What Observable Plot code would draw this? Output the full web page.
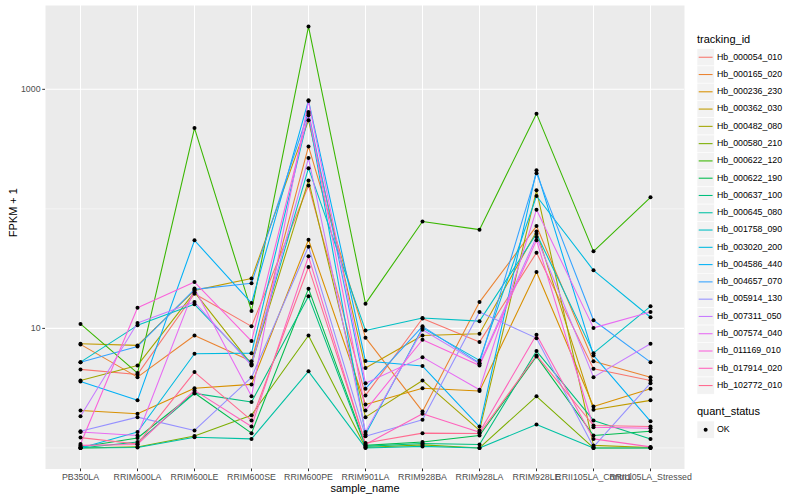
<!DOCTYPE html>
<html>
<head>
<meta charset="utf-8">
<script src="https://cdn.jsdelivr.net/npm/d3@7"></script>
<script src="https://cdn.jsdelivr.net/npm/@observablehq/plot@0.6"></script>
<style>
  html, body { margin: 0; padding: 0; background: white; }
  #wrap { position: relative; width: 800px; height: 500px; font-family: "Liberation Sans", Arial, Helvetica, sans-serif; }
  #chart { position: absolute; left: 0; top: 0; }
  #legend { position: absolute; left: 692px; top: 0; }
</style>
</head>
<body>
<div id="wrap"><div id="chart"></div><div id="legend"></div></div>
<script>
const samples = ["PB350LA","RRIM600LA","RRIM600LE","RRIM600SE","RRIM600PE","RRIM901LA","RRIM928BA","RRIM928LA","RRIM928LE","RRII105LA_Control","RRII105LA_Stressed"];

const ids = ["Hb_000054_010","Hb_000165_020","Hb_000236_230","Hb_000362_030","Hb_000482_080","Hb_000580_210","Hb_000622_120","Hb_000622_190","Hb_000637_100","Hb_000645_080","Hb_001758_090","Hb_003020_200","Hb_004586_440","Hb_004657_070","Hb_005914_130","Hb_007311_050","Hb_007574_040","Hb_011169_010","Hb_017914_020","Hb_102772_010"];

const colors = ["#F8766D","#EA8331","#D89000","#C09B00","#A3A500","#7CAE00","#39B600","#00BB4E","#00BF7D","#00C1A3","#00BFC4","#00BAE0","#00B0F6","#35A2FF","#9590FF","#C77CFF","#E76BF3","#FA62DB","#FF62BC","#FF6C91"];

// FPKM + 1, one row per tracking_id, one value per sample
const fpkm1 = [
  [4.54, 4.12, 19.5, 10.4, 157, 2.75, 12.1, 7.68, 43.0, 4.60, 3.67],
  [7.35, 3.91, 8.73, 5.30, 333, 8.36, 2.02, 16.6, 71.8, 5.30, 3.91],
  [2.06, 1.93, 3.16, 3.40, 55.2, 2.31, 3.16, 2.99, 29.6, 2.22, 3.13],
  [7.45, 7.21, 20.8, 26.1, 550, 4.66, 8.73, 9.03, 64.8, 2.09, 2.50],
  [3.67, 4.90, 20.1, 5.00, 173, 1.81, 3.67, 1.40, 143, 1.05, 1.01],
  [1.00, 1.02, 1.26, 1.88, 8.73, 1.01, 1.06, 1.00, 2.70, 1.00, 1.00],
  [10.9, 4.23, 474, 14.0, 3350, 16.1, 78.5, 67.0, 626, 44.1, 125],
  [1.02, 1.21, 2.88, 1.33, 21.5, 1.05, 1.12, 1.27, 5.83, 1.27, 1.38],
  [1.00, 1.12, 2.86, 2.42, 18.6, 1.03, 1.09, 1.07, 6.46, 1.70, 1.19],
  [1.00, 1.01, 1.23, 1.19, 4.37, 1.00, 1.03, 1.00, 1.57, 1.00, 1.00],
  [5.22, 10.6, 15.9, 5.07, 219, 9.62, 12.2, 11.5, 62.0, 6.21, 15.3],
  [1.00, 1.36, 6.14, 6.21, 606, 1.30, 10.1, 5.40, 128, 30.6, 12.4],
  [3.60, 2.50, 54.5, 16.3, 809, 5.33, 4.84, 1.51, 210, 5.94, 1.67],
  [5.22, 7.07, 21.2, 23.9, 646, 3.13, 10.4, 5.12, 199, 11.7, 5.22],
  [1.38, 1.81, 1.40, 3.89, 48.3, 1.25, 1.72, 13.7, 8.29, 1.02, 3.48],
  [1.84, 11.1, 16.6, 4.90, 266, 1.36, 9.75, 5.05, 58.1, 3.91, 7.45],
  [1.36, 1.27, 21.6, 2.71, 798, 3.48, 5.75, 3.07, 98.4, 10.1, 13.7],
  [1.08, 14.9, 24.4, 7.83, 626, 2.06, 8.04, 4.90, 54.5, 1.49, 1.46],
  [1.05, 1.07, 3.03, 1.51, 40.1, 1.07, 1.93, 1.35, 8.86, 1.19, 1.02],
  [1.22, 1.08, 4.31, 1.70, 32.6, 1.10, 1.33, 1.32, 5.94, 1.54, 1.51]
];

const yMajor = [10, 1000];
const yMinor = [1, 100];
const quantStatus = ["OK"];

const rows = [];
ids.forEach((id, i) => samples.forEach((s, j) => rows.push({id, sample: s, value: fpkm1[i][j], status: quantStatus[0]})));

// ggplot-like expansion (5% of log range)
const lo = Math.log10(d3.min(rows, d => d.value));
const hi = Math.log10(d3.max(rows, d => d.value));
const pad = 0.05 * (hi - lo);
const yDomain = [Math.pow(10, lo - pad), Math.pow(10, hi + pad)];

const font = '"Liberation Sans", Arial, Helvetica, sans-serif';

const chart = Plot.plot({
  width: 692,
  height: 500,
  marginLeft: 45,
  marginRight: 8,
  marginTop: 5,
  marginBottom: 31.5,
  style: {fontFamily: font, fontSize: "8.8px", background: "white", overflow: "visible"},
  x: {type: "point", domain: samples, padding: 0.6, align: 0.5},
  y: {type: "log", domain: yDomain},
  color: {domain: ids, range: colors},
  marks: [
    Plot.frame({fill: "#EBEBEB", stroke: null}),
    Plot.gridY(yMinor, {stroke: "white", strokeOpacity: 1, strokeWidth: 0.53}),
    Plot.gridY(yMajor, {stroke: "white", strokeOpacity: 1, strokeWidth: 1.07}),
    Plot.gridX(samples, {stroke: "white", strokeOpacity: 1, strokeWidth: 1.07}),
    Plot.line(rows, {x: "sample", y: "value", z: "id", stroke: "id", strokeWidth: 1.07}),
    Plot.dot(rows, {x: "sample", y: "value", r: 2, fill: "black", stroke: null}),
    Plot.axisX({label: null, tickSize: 2.74, tickPadding: 2.2, stroke: "#333333", fill: "#4D4D4D", fontSize: 8.8}),
    Plot.axisY(yMajor, {label: null, tickSize: 2.74, tickPadding: 2.2, stroke: "#333333", fill: "#4D4D4D", fontSize: 8.8, tickFormat: d => String(d)}),
    Plot.text(["sample_name"], {frameAnchor: "bottom", dy: 23, fontSize: 11, fill: "black"}),
    Plot.text(["FPKM + 1"], {frameAnchor: "left", dx: -32, rotate: -90, fontSize: 11, fill: "black"})
  ]
});
document.getElementById("chart").appendChild(chart);

// Legend (ggplot style) on the right
const key = 17.28;
const lg = d3.select("#legend").append("svg")
  .attr("width", 108).attr("height", 500)
  .style("font-family", font);
lg.append("text").attr("x", 5).attr("y", 40).attr("dominant-baseline", "middle")
  .attr("font-size", 11).text("tracking_id");
ids.forEach((id, i) => {
  const y0 = 48.6 + i * key;
  lg.append("rect").attr("x", 5).attr("y", y0).attr("width", key).attr("height", key)
    .attr("fill", "#F2F2F2").attr("stroke", "white").attr("stroke-width", 0.6);
  lg.append("line").attr("x1", 6.7).attr("x2", 5 + key - 1.7)
    .attr("y1", y0 + key / 2).attr("y2", y0 + key / 2)
    .attr("stroke", colors[i]).attr("stroke-width", 1.07);
  lg.append("text").attr("x", 5 + key + 2.75).attr("y", y0 + key / 2)
    .attr("dominant-baseline", "middle").attr("font-size", 8.8).attr("fill", "black").text(id);
});
lg.append("text").attr("x", 5).attr("y", 412).attr("dominant-baseline", "middle")
  .attr("font-size", 11).text("quant_status");
quantStatus.forEach((s, i) => {
  const y0 = 421 + i * key;
  lg.append("rect").attr("x", 5).attr("y", y0).attr("width", key).attr("height", key)
    .attr("fill", "#F2F2F2").attr("stroke", "white").attr("stroke-width", 0.6);
  lg.append("circle").attr("cx", 5 + key / 2).attr("cy", y0 + key / 2).attr("r", 2).attr("fill", "black");
  lg.append("text").attr("x", 5 + key + 2.75).attr("y", y0 + key / 2)
    .attr("dominant-baseline", "middle").attr("font-size", 8.8).attr("fill", "black").text(s);
});
</script>
</body>
</html>
